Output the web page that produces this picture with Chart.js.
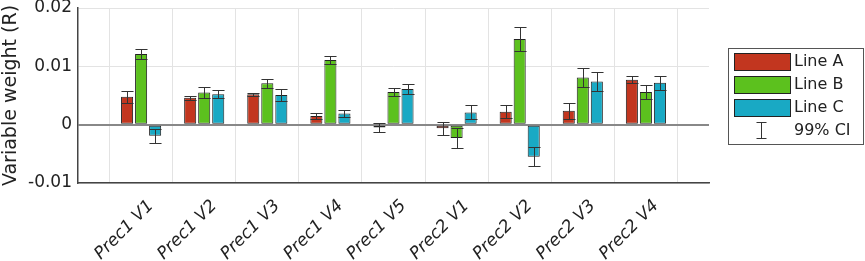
<!DOCTYPE html>
<html>
<head>
<meta charset="utf-8">
<script src="https://cdn.jsdelivr.net/npm/chart.js@4.4.0/dist/chart.umd.min.js"></script>
<style>
  html, body { margin: 0; padding: 0; background: #fff; }
  #wrap { width: 865px; height: 261px; }
</style>
</head>
<body>
<div id="wrap"><canvas id="chartWeights"></canvas></div>
<script>
const categories = ['Prec1 V1', 'Prec1 V2', 'Prec1 V3', 'Prec1 V4', 'Prec1 V5', 'Prec2 V1', 'Prec2 V2', 'Prec2 V3', 'Prec2 V4']
const lineA = [0.0048, 0.0046, 0.0052, 0.0015, -0.0005, -0.0006, 0.0022, 0.0024, 0.0077]
const lineB = [0.0121, 0.0055, 0.0071, 0.0111, 0.0056, -0.0023, 0.0147, 0.0081, 0.0056]
const lineC = [-0.0019, 0.0052, 0.0051, 0.0019, 0.0061, 0.0021, -0.0055, 0.0074, 0.0072]
// 99% CI half widths
const ciA = [0.0010, 0.0004, 0.0002, 0.0005, 0.0007, 0.0011, 0.0011, 0.0014, 0.0006]
const ciB = [0.0008, 0.0009, 0.0008, 0.0007, 0.0007, 0.0017, 0.0020, 0.0017, 0.0012]
const ciC = [0.0012, 0.0007, 0.0011, 0.0006, 0.0008, 0.0012, 0.0016, 0.0016, 0.0012]
const yTicks = [-0.01, 0, 0.01, 0.02]

const FONT = 'DejaVu Sans'

// pad one empty slot each side, like the original axis limits
function pad(arr) { return [null].concat(arr, [null]) }

var errorBars = {
    id: 'errorBars',
    afterDatasetsDraw(chart) {
        const ctx = chart.ctx
        const y = chart.scales.y
        ctx.save()
        ctx.strokeStyle = '#333'
        ctx.lineWidth = 1
        chart.data.datasets.forEach(function (ds, i) {
            const meta = chart.getDatasetMeta(i)
            meta.data.forEach(function (bar, j) {
                const v = ds.data[j]
                if (v === null) return
                const e = ds.ci[j]
                const top = Math.round(y.getPixelForValue(v + e)) + 0.5
                const bot = Math.round(y.getPixelForValue(v - e)) + 0.5
                const cx = Math.round(bar.x) + 0.5
                const hw = bar.width / 2
                ctx.beginPath()
                ctx.moveTo(cx, top); ctx.lineTo(cx, bot)
                ctx.moveTo(cx - hw, top); ctx.lineTo(cx + hw, top)
                ctx.moveTo(cx - hw, bot); ctx.lineTo(cx + hw, bot)
                ctx.stroke()
            })
        })
        ctx.restore()
    }
}

var boxLegend = {
    id: 'boxLegend',
    afterDraw(chart) {
        const ctx = chart.ctx
        const x0 = chart.chartArea.right + 19
        const y0 = 48
        const w = 135, h = 96
        ctx.save()
        ctx.fillStyle = '#fff'
        ctx.fillRect(x0, y0, w, h)
        ctx.strokeStyle = '#555'
        ctx.lineWidth = 1
        ctx.strokeRect(x0 + 0.5, y0 + 0.5, w, h)
        ctx.font = '16px ' + FONT
        ctx.textBaseline = 'middle'
        chart.data.datasets.forEach(function (ds, i) {
            const ry = y0 + 5 + i * 23
            ctx.fillStyle = ds.backgroundColor
            ctx.fillRect(x0 + 6, ry, 56, 17)
            ctx.strokeStyle = '#222'
            ctx.strokeRect(x0 + 6.5, ry + 0.5, 56, 17)
            ctx.fillStyle = '#222'
            ctx.fillText(ds.label, x0 + 66, ry + 9)
        })
        const ry = y0 + 5 + 3 * 23
        const cx = x0 + 33.5
        ctx.strokeStyle = '#333'
        ctx.beginPath()
        ctx.moveTo(cx, ry); ctx.lineTo(cx, ry + 16)
        ctx.moveTo(cx - 5, ry + 0.5); ctx.lineTo(cx + 5, ry + 0.5)
        ctx.moveTo(cx - 5, ry + 16.5); ctx.lineTo(cx + 5, ry + 16.5)
        ctx.stroke()
        ctx.fillStyle = '#222'
        ctx.fillText('99% CI', x0 + 66, ry + 9)
        ctx.restore()
    }
}

var ctxWeights = document.getElementById('chartWeights').getContext('2d');
var chartWeights = new Chart(ctxWeights, {
    type: 'bar',
    data: {
        labels: [''].concat(categories, ['']),
        datasets: [
            { label: 'Line A', data: pad(lineA), ci: pad(ciA), backgroundColor: '#c2361f' },
            { label: 'Line B', data: pad(lineB), ci: pad(ciB), backgroundColor: '#5cc11e' },
            { label: 'Line C', data: pad(lineC), ci: pad(ciC), backgroundColor: '#19a9c4' }
        ].map(function (d) {
            d.borderColor = '#222'
            d.borderWidth = 1
            d.borderSkipped = false
            d.categoryPercentage = 0.667
            d.barPercentage = 0.86
            return d
        })
    },
    options: {
        responsive: true,
        maintainAspectRatio: false,
        animation: false,
        layout: { padding: { left: 0, right: 156, top: 8, bottom: 0 } },
        plugins: {
            legend: { display: false },
            tooltip: { enabled: false }
        },
        scales: {
            x: {
                offset: false,
                grid: { color: '#e3e3e3', drawTicks: false },
                border: { color: '#444', width: 1.5 },
                afterFit: function (axis) { axis.height = 78 },
                ticks: {
                    maxRotation: 45, minRotation: 45, autoSkip: false, padding: 13,
                    labelOffset: 10,
                    color: '#222',
                    font: { family: FONT, size: 17, style: 'italic' }
                }
            },
            y: {
                min: -0.01, max: 0.02,
                afterBuildTicks: function (axis) { axis.ticks = yTicks.map(function (v) { return { value: v } }) },
                afterFit: function (axis) { axis.width = 78; axis.paddingTop = 0; axis.paddingBottom = 0 },
                grid: {
                    drawTicks: false,
                    color: function (c) { return c.tick && c.tick.value === 0 ? '#888' : '#e3e3e3' },
                    lineWidth: function (c) { return c.tick && c.tick.value === 0 ? 2 : 1 }
                },
                border: { color: '#444', width: 1.5 },
                ticks: {
                    padding: 6, color: '#222',
                    font: { family: FONT, size: 17 },
                    callback: function (v) { return v === 0 ? '0' : String(+v.toFixed(2)) }
                },
                title: {
                    display: true, text: 'Variable weight (R)', color: '#222', padding: 0,
                    font: { family: FONT, size: 19 }
                }
            }
        }
    },
    plugins: [errorBars, boxLegend]
});
</script>
</body>
</html>
